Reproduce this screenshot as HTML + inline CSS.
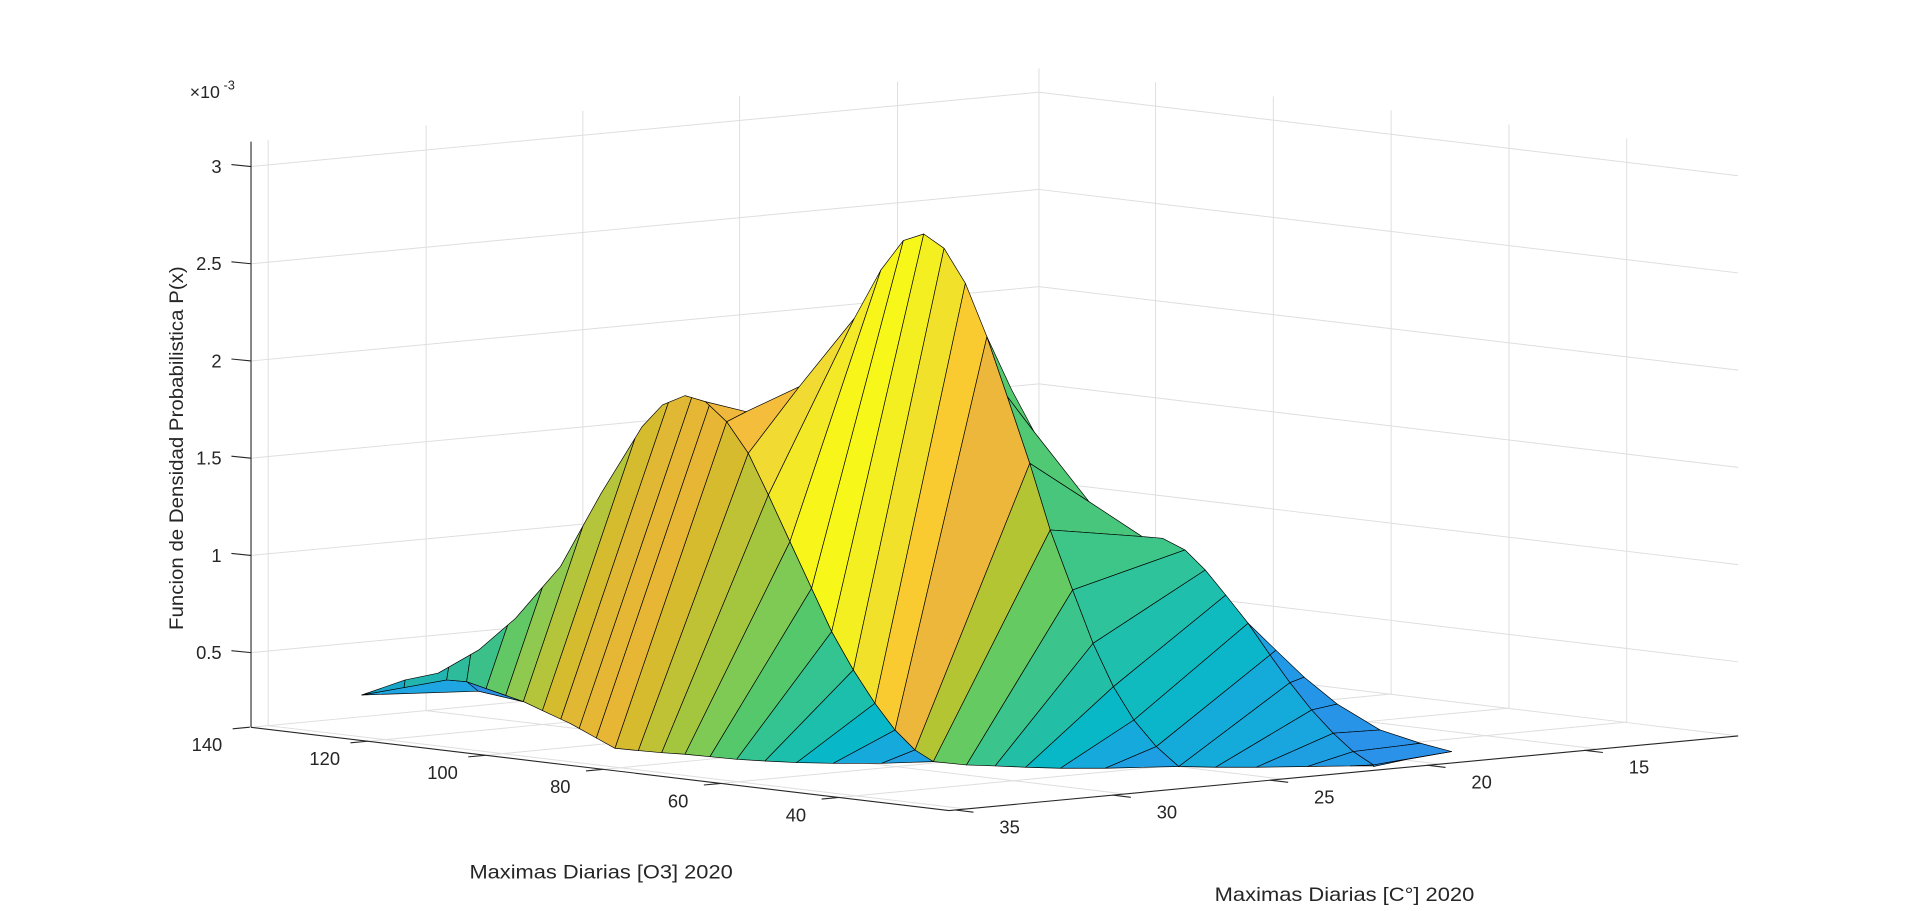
<!DOCTYPE html>
<html><head><meta charset="utf-8">
<style>
html,body{margin:0;padding:0;background:#fff;}
svg{display:block;}
text{font-family:"Liberation Sans",Arial,sans-serif;fill:#262626;}
</style></head>
<body>
<svg id="s" width="1920" height="911" viewBox="0 0 1568 744" preserveAspectRatio="none" xmlns="http://www.w3.org/2000/svg">
<g id="grid" stroke="#dedede" stroke-width="0.8" fill="none"></g>
<g id="surf" stroke="#000" stroke-width="0.55" stroke-linejoin="round"></g>
<g id="axes" stroke="#262626" stroke-width="0.9" fill="none"></g>
<g id="labels" font-size="15"></g>
</svg>
<script>
var NS="http://www.w3.org/2000/svg";
function el(parent,tag,attrs,txt){var e=document.createElementNS(NS,tag);for(var k in attrs)e.setAttribute(k,attrs[k]);if(txt!==undefined)e.textContent=txt;document.getElementById(parent).appendChild(e);return e;}
function line(p,x1,y1,x2,y2){el(p,'line',{x1:x1,y1:y1,x2:x2,y2:y2});}
function poly(pts,c){el('surf','polygon',{points:pts.map(function(p){return p[0].toFixed(1)+','+p[1].toFixed(1)}).join(' '),fill:c});}
function yz(z){return 136+(3-z)*158.8;}
[0.5,1,1.5,2,2.5,3].forEach(function(z){var y=yz(z);line('grid',205,y,848.5,y-60.7);line('grid',848.5,y-60.7,1419.5,y-60.7+68.2);});
[219,348,476,604,733].forEach(function(x){var yb=594-(x-205)*0.0956;var yt=115.7-(x-205)*0.0931;line('grid',x,yb,x,yt);line('grid',x,yb,x+570,yb+68);});
line('grid',848.5,532.5,848.5,55.8);
line('grid',205,594,848.5,532.5);line('grid',848.5,532.5,1419.5,601);
[120,100,80,60,40].forEach(function(o){var x=204+(140-o)*4.81;var y=594+(x-205)*0.1193;var xr=x+643.5,yr=y-61.5;line('grid',x,y,xr,yr);var ytop=55.8+(xr-848.5)*0.1195;line('grid',xr,yr,xr,ytop);});
line('grid',205,115.7,205,594);
function lerp(a,b,t){return [a[0]+(b[0]-a[0])*t,a[1]+(b[1]-a[1])*t];}
function quadStrips(B,T,cols){for(var i=0;i<cols.length;i++){poly([B[i],B[i+1],T[i+1],T[i]],cols[i]);}}
function ptAt(P,u){var i=Math.min(Math.floor(u),P.length-2);return lerp(P[i],P[i+1],u-i);}
function subPts(P,u0,u1){var r=[ptAt(P,u0)];if(u1>u0){for(var i=Math.floor(u0)+1;i<=u1;i++){if(i>u0&&i<u1)r.push(P[i]);}}else{for(var i=Math.floor(u0);i>u1;i--){if(i<u0&&i>u1)r.push(P[i]);}}r.push(ptAt(P,u1));return r;}
function uAtX(P,x){for(var i=0;i<P.length-1;i++){var a=P[i],b=P[i+1];if((x>=a[0]&&x<=b[0])||(x<=a[0]&&x>=b[0])){return i+(b[0]==a[0]?0:(x-a[0])/(b[0]-a[0]));}}return P.length-1;}
function rayHit(P,o,d){var best=null;for(var i=0;i<P.length-1;i++){var a=P[i],b=P[i+1];var ex=b[0]-a[0],ey=b[1]-a[1];var den=d[0]*(-ey)-d[1]*(-ex);if(Math.abs(den)<1e-9)continue;var rx=a[0]-o[0],ry=a[1]-o[1];var t=(rx*(-ey)-ry*(-ex))/den;var s=(d[0]*ry-d[1]*rx)/den;if(t>=-0.01&&s>=-0.001&&s<=1.001){if(best===null||t<best.t)best={t:t,u:i+Math.max(0,Math.min(1,s))};}}return best?best.u:P.length-1;}

poly([[295.4,567.6],[364.8,555.3],[381.1,556.7],[427.4,573],[390.7,564.5]],'#1FA6E2');
poly([[381.1,556.7],[427.4,573],[390.7,564.5]],'#2B8FE6');

var F=[[593.4,344.4],[611.1,370.2],[627.5,404.3],[645.1,442.4],[662.8,480.5],[679.2,515.9],[696.9,547.2],[714.5,574.4],[730.9,596.2],[747.2,612.5],[762.2,622]];
var BM=F.concat([[789.3,624.7],[812.7,625.5],[837.7,626.6],[866,627.4],[902.7,627.4],[962.7,626]]);
var TMtops=[[[593.4,344.4]],[[609.4,336.2],[652.7,315.8]],[[697.7,260]],[[719.4,220.5]],[[737.7,196.5]],[[754.4,191.1]],[[771,202.8]],[[788.4,231.4]],[[806,275]],[[822.7,324],[841,378.4]],[[857.7,432.8]],[[876,481.8]],[[892.7,525.4]],[[909.3,560.8]],[[926,588]],[[944.3,609.7]],[[962.7,626]]];
var colM=['#F4BD3B','#F1DA31','#F3E927','#F8F51A','#F7F81A','#F4EF20','#F2E12B','#FACB30','#ECB73A','#B4C534','#66CA62','#3BC48B','#22BEA6','#09B8C6','#16A9DC','#1F9FE3'];
for(var i=0;i<colM.length;i++){var t0=TMtops[i],t1=TMtops[i+1];
 var pts=[BM[i],BM[i+1]].concat(t1.slice().reverse().slice(0,1));
 var chainBack=[];for(var k=t1.length-2;k>=0;k--)chainBack.push(t1[k]);
 pts=pts.concat(chainBack);pts.push(t0[t0.length-1]);
 poly(pts,colM[i]);}
poly([[576,328],[609.4,336.2],[593.4,344.4]],'#EFB83C');

var G=[[806,275],[822.7,324],[841,378.4],[857.7,432.8],[876,481.8],[892.7,525.4],[909.3,560.8],[926,588],[944.3,609.7],[962.7,626]];
var S=[[806,275],[844.4,352.5],[889.4,409.7],[932.7,438.2],[967.7,449.1],[984.3,465.5],[1001,486],[1019.3,509],[1037.2,534.9],[1053.5,557.5]];
var colR=['#55C96F','#50C874','#48C77C','#3EC688','#2EC39A','#1EBFAC','#10BBC0','#0BB6CA','#14AADA'];
for(var i=0;i<colR.length;i++){var p=[G[i],G[i+1],S[i+1],S[i]];if(i==3)p=[G[3],G[4],S[4],[949.4,439.6],S[3]];if(i==0)p=[G[0],G[1],S[1],[826,318],S[0]];poly(p,colR[i]);}
var BR=[[962.7,626],[992.7,626.6],[1026,626.6],[1067.7,626],[1102.7,625.5],[1121.6,625.5]];
var K=[[1053.5,557.5],[1071.2,579.8],[1088.9,598.8],[1105.2,613.8],[1121.6,624.7],[1121.6,625.5]];
quadStrips(BR,K,['#14ABDA','#19A5DE','#1D9FE2','#2299E5','#2497E6']);
var K2=[[1019.3,509],[1037.2,534.9],[1053.5,557.5],[1071.2,579.8],[1088.9,598.8],[1105.2,613.8],[1121.6,624.7]];
var O=[[1019.3,509],[1042,531],[1065,553],[1092,575],[1127,596.1],[1160,607],[1185.5,613.8]];
quadStrips(K2,O,['#1EA0E2','#2199E6','#2596E7','#2894E8','#2A93E9','#2A93E9']);
poly([[1121.6,624.7],[1185.5,613.8],[1150,620],[1121.6,626]],'#2A93E9');

var LB=[[502.2,611.1],[521.3,613],[540.4,614.7],[559.4,616],[579.8,618],[601.6,620.1],[624.7,621.5],[650.6,622.8],[680.5,623.4],[720,623.4],[762.2,622]];
quadStrips(LB,F,['#D6BB2E','#BFC235','#A4C63F','#7ECA54','#55C86C','#33C492','#1CBFAB','#08B8C8','#15A9DC','#1FA0E3']);

var BL=[[295.4,567.6],[364.8,555.3],[381.1,556.7],[427.4,573],[466,591],[502.2,611.1]];
var TL=[[295.4,567.6],[331,555.3],[357.7,549.8],[391,530.8],[421,505],[457.7,462.7],[491,402.8],[524.4,348.4],[541,330.7],[559.4,323.1],[576,328],[593.4,344.4]];
var bx=[295.4,330,364.8,381.1,397,413,427.4,443,458,473,487,502.2];
var colL=['#1AA6C8','#22B4AE','#2DBB9C','#3CC08A','#62C765','#8FC94F','#B5C53B','#D5BC2F','#E0B833','#E5B734','#E7B635'];
var bu=bx.map(function(x){return uAtX(BL,x);});
var tu=bu.map(function(u,i){if(i==0)return 0;if(i==bu.length-1)return TL.length-1;var o=ptAt(BL,u);var dx=(o[0]<382)?0.15:0.34;return rayHit(TL,o,[dx,-1]);});
for(var i=0;i<colL.length;i++){var pts=subPts(BL,bu[i],bu[i+1]).concat(subPts(TL,tu[i+1],tu[i]));poly(pts,colL[i]);}

line('axes',205,115.7,205,594);
line('axes',205,594,775,662);
line('axes',775,662,1419.5,601);
[3,2.5,2,1.5,1,0.5].forEach(function(z){var y=yz(z);line('axes',189,y-1.6,205,y);el('labels','text',{x:181,y:y+5.3,'text-anchor':'end'},String(z));});
[140,120,100,80,60,40].forEach(function(o){var x=204+(140-o)*4.81;var y=594+(x-205)*0.1193;line('axes',x,y,x-14,y+1.3);el('labels','text',{x:x-35,y:y+19.5,'text-anchor':'middle'},String(o));});
[35,30,25,20,15].forEach(function(t){var x=780+(35-t)*25.7;var y=662-(x-775)*0.0949;line('axes',x,y,x+15,y+1.8);el('labels','text',{x:x+44.5,y:y+19,'text-anchor':'middle'},String(t));});
el('labels','text',{x:490.9,y:717.5,'text-anchor':'middle','font-size':'15.5',textLength:215,lengthAdjust:'spacingAndGlyphs'},'Maximas Diarias [O3] 2020');
el('labels','text',{x:1098,y:736,'text-anchor':'middle','font-size':'15.5',textLength:212,lengthAdjust:'spacingAndGlyphs'},'Maximas Diarias [C°] 2020');
el('labels','text',{x:0,y:0,'text-anchor':'middle','font-size':'15.5',transform:'translate(149.5,366) rotate(-90)',textLength:297,lengthAdjust:'spacingAndGlyphs'},'Funcion de Densidad Probabilistica P(x)');
el('labels','text',{x:155,y:80,'font-size':'14.5'},'\u00d710');
el('labels','text',{x:182.5,y:73,'font-size':'10.5'},'-3');
</script>
</body></html>
